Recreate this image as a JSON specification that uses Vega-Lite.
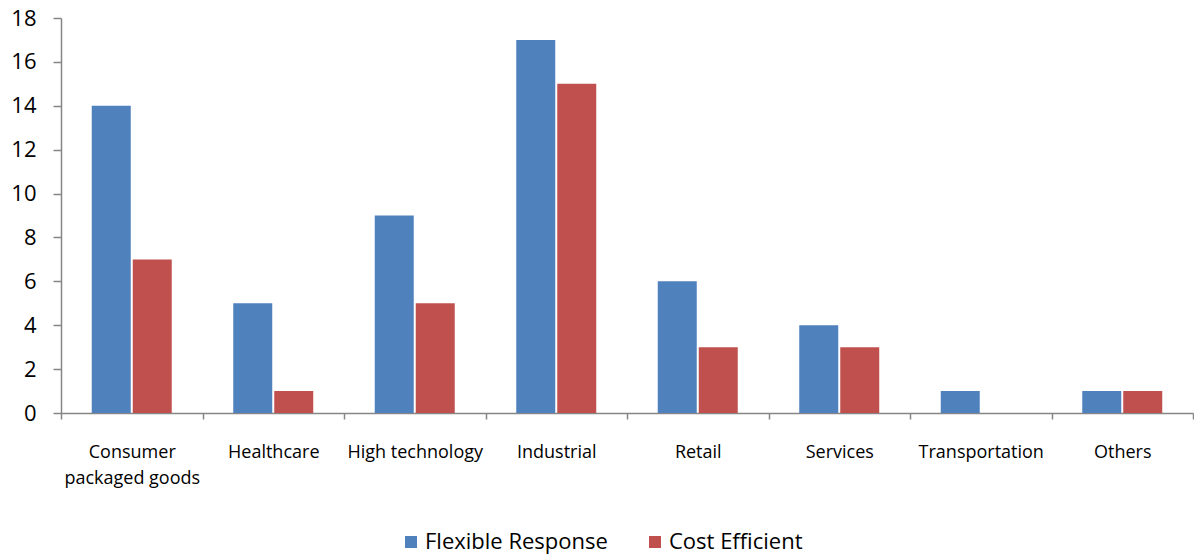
{
  "$schema": "https://vega.github.io/schema/vega-lite/v6.json",
  "width": 1132,
  "height": 395,
  "autosize": {"type": "none"},
  "padding": {"left": 61, "top": 18, "right": 1, "bottom": 141},
  "background": "white",
  "config": {
    "view": {"stroke": null},
    "font": "Open Sans"
  },
  "data": {
    "values": [
      {"industry": "Consumer packaged goods", "strategy": "Flexible Response", "count": 14},
      {"industry": "Consumer packaged goods", "strategy": "Cost Efficient", "count": 7},
      {"industry": "Healthcare", "strategy": "Flexible Response", "count": 5},
      {"industry": "Healthcare", "strategy": "Cost Efficient", "count": 1},
      {"industry": "High technology", "strategy": "Flexible Response", "count": 9},
      {"industry": "High technology", "strategy": "Cost Efficient", "count": 5},
      {"industry": "Industrial", "strategy": "Flexible Response", "count": 17},
      {"industry": "Industrial", "strategy": "Cost Efficient", "count": 15},
      {"industry": "Retail", "strategy": "Flexible Response", "count": 6},
      {"industry": "Retail", "strategy": "Cost Efficient", "count": 3},
      {"industry": "Services", "strategy": "Flexible Response", "count": 4},
      {"industry": "Services", "strategy": "Cost Efficient", "count": 3},
      {"industry": "Transportation", "strategy": "Flexible Response", "count": 1},
      {"industry": "Transportation", "strategy": "Cost Efficient", "count": 0},
      {"industry": "Others", "strategy": "Flexible Response", "count": 1},
      {"industry": "Others", "strategy": "Cost Efficient", "count": 1}
    ]
  },
  "mark": {"type": "bar"},
  "encoding": {
    "x": {
      "field": "industry",
      "type": "nominal",
      "sort": null,
      "scale": {"paddingInner": 0, "paddingOuter": 0},
      "axis": {
        "title": null,
        "labelAngle": 0,
        "tickBand": "extent",
        "domainColor": "#868686",
        "domainWidth": 1.5,
        "tickColor": "#868686",
        "tickWidth": 1.5,
        "tickSize": 6,
        "labelPadding": 24,
        "labelFontSize": 18,
        "labelColor": "#000000",
        "labelLineHeight": 26,
        "labelExpr": "datum.value == 'Consumer packaged goods' ? ['Consumer', 'packaged goods'] : datum.value"
      }
    },
    "xOffset": {
      "field": "strategy",
      "type": "nominal",
      "sort": ["Flexible Response", "Cost Efficient"],
      "scale": {"paddingInner": 0.049, "paddingOuter": 0.75}
    },
    "y": {
      "field": "count",
      "type": "quantitative",
      "scale": {"domain": [0, 18], "nice": false},
      "axis": {
        "title": null,
        "values": [0, 2, 4, 6, 8, 10, 12, 14, 16, 18],
        "grid": false,
        "domainColor": "#868686",
        "domainWidth": 1.5,
        "tickColor": "#868686",
        "tickWidth": 1.5,
        "tickSize": 8,
        "labelPadding": 17,
        "labelFontSize": 22,
        "labelColor": "#000000"
      }
    },
    "color": {
      "field": "strategy",
      "type": "nominal",
      "sort": ["Flexible Response", "Cost Efficient"],
      "scale": {"domain": ["Flexible Response", "Cost Efficient"], "range": ["#4F81BD", "#C0504D"]},
      "legend": {
        "title": null,
        "orient": "none",
        "legendX": 339,
        "legendY": 513,
        "direction": "horizontal",
        "symbolType": "square",
        "symbolSize": 144,
        "symbolStrokeWidth": 0,
        "labelFontSize": 22,
        "labelColor": "#000000",
        "labelLimit": 0,
        "labelOffset": 3,
        "columnPadding": 36
      }
    }
  }
}
